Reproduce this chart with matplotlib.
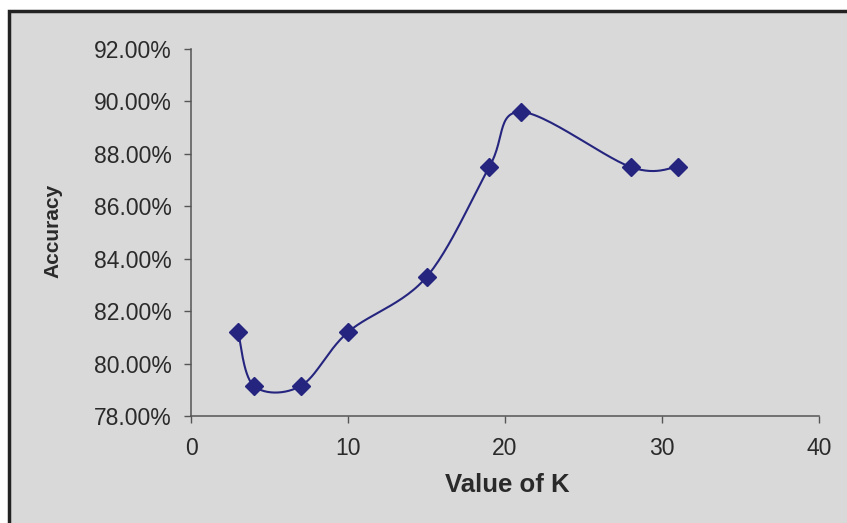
"""
Accuracy of the classifier for different values of K (Excel-style smoothed line)
"""
import matplotlib
matplotlib.use('Agg')
import matplotlib.pyplot as plt
from matplotlib.patches import Rectangle
from matplotlib.ticker import FuncFormatter, MultipleLocator
import numpy as np

plt.rcParams['font.family'] = ['Liberation Sans', 'DejaVu Sans']

# data
k_values = [3, 4, 7, 10, 15, 19, 21, 28, 31]
accuracy = [81.2, 79.15, 79.15, 81.2, 83.3, 87.5, 89.6, 87.5, 87.5]

line_color = '#25257f'
bg_color = '#d9d9d9'
text_color = '#2a2a2a'


def smooth_curve(xs, ys, steps=30):
    # Catmull-Rom style bezier, like Excel's "smoothed line"
    pts = np.column_stack([xs, ys]).astype(float)
    out = [pts[0]]
    n = len(pts)
    for i in range(n - 1):
        p0 = pts[i - 1] if i > 0 else pts[i]
        p1 = pts[i]
        p2 = pts[i + 1]
        p3 = pts[i + 2] if i + 2 < n else pts[i + 1]
        c1 = p1 + (p2 - p0) / 6.0
        c2 = p2 - (p3 - p1) / 6.0
        t = np.linspace(0, 1, steps)[1:, None]
        seg = ((1 - t) ** 3) * p1 + 3 * ((1 - t) ** 2) * t * c1 \
            + 3 * (1 - t) * t ** 2 * c2 + t ** 3 * p2
        out.extend(seg)
    out = np.array(out)
    return out[:, 0], out[:, 1]


fig = plt.figure(figsize=(8.47, 5.23), dpi=100, facecolor='white')

# grey chart area with dark frame (right and bottom edges are cut off)
frame = Rectangle((8.5 / 847, -0.05), 1.1, 1 - 11 / 523 + 0.05,
                  transform=fig.transFigure, facecolor=bg_color,
                  edgecolor='#222222', linewidth=2.5, zorder=-10)
fig.patches.append(frame)

ax = fig.add_axes([191 / 847, 1 - 416 / 523, 628 / 847, 367 / 523])
ax.patch.set_visible(False)

sx, sy = smooth_curve(k_values, accuracy)
ax.plot(sx, sy, color=line_color, linewidth=1.5, zorder=2)
ax.plot(k_values, accuracy, linestyle='none', marker='D', markersize=9,
        color=line_color, zorder=3)

ax.set_xlim(0, 40)
ax.set_ylim(78, 92)
ax.xaxis.set_major_locator(MultipleLocator(10))
ax.yaxis.set_major_locator(MultipleLocator(2))
ax.yaxis.set_major_formatter(FuncFormatter(lambda v, p: f'{v:.2f}%'))

for side in ['top', 'right']:
    ax.spines[side].set_visible(False)
for side in ['left', 'bottom']:
    ax.spines[side].set_color('#555555')
    ax.spines[side].set_linewidth(1.1)

ax.tick_params(axis='both', direction='out', length=5, width=1.0,
               color='#555555', labelcolor=text_color, labelsize=16.5)
ax.tick_params(axis='x', pad=10)
ax.tick_params(axis='y', pad=9)

ax.set_xlabel('Value of K', fontsize=18.5, fontweight='bold', color=text_color)
ax.set_ylabel('Accuracy', fontsize=15, fontweight='bold', color=text_color)
ax.xaxis.set_label_coords(0.503, -0.155)
ax.yaxis.set_label_coords(-0.205, 0.504)

plt.savefig('out.png', dpi=100, facecolor=fig.get_facecolor())
plt.close()
